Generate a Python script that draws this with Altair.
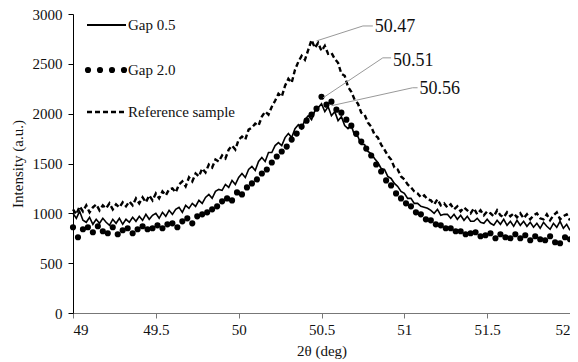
import altair as alt
import pandas as pd

FONT = "Liberation Serif"

# 2-theta grids
x_line = [round(49 + 0.02 * i, 2) for i in range(151)]
x_dot = [round(49 + 0.03 * i, 2) for i in range(101)]

ref_sample = [
    1040, 990, 1070, 1020, 1080, 1010, 1060, 1090, 1030, 1080, 1050, 1100, 1040, 1090, 1060,
    1110, 1070, 1120, 1080, 1150, 1100, 1160, 1110, 1180, 1130, 1200, 1150, 1220, 1180, 1240,
    1250, 1210, 1290, 1320, 1270, 1360, 1320, 1400, 1370, 1450, 1410, 1490, 1460, 1540, 1520,
    1580, 1550, 1640, 1680, 1640, 1740, 1770, 1740, 1840, 1860, 1900, 1880, 1970, 2020, 1990,
    2070, 2130, 2200, 2170, 2280, 2350, 2310, 2440, 2520, 2580, 2540, 2640, 2740, 2660, 2710,
    2630, 2680, 2600, 2610, 2550, 2510, 2400, 2380, 2270, 2220, 2140, 2100, 2010, 1990, 1910,
    1870, 1790, 1760, 1690, 1640, 1580, 1540, 1460, 1440, 1370, 1340, 1290, 1260, 1220, 1200,
    1160, 1180, 1140, 1130, 1090, 1140, 1080, 1100, 1060, 1090, 1040, 1070, 1020, 1060, 1030,
    1000, 1050, 990, 1030, 980, 1020, 1000, 970, 1030, 980, 960, 1010, 970, 1000, 960,
    1000, 950, 990, 940, 980, 1000, 950, 940, 990, 930, 980, 1010, 940, 970, 990,
    930,
]

gap05 = [
    1000, 950, 1020, 930, 910, 960, 890, 940, 900, 950, 910, 880, 940, 900, 950,
    890, 940, 910, 960, 920, 970, 930, 990, 940, 980, 1000, 950, 1010, 970, 1030,
    990, 1040, 1060, 1010, 1080, 1050, 1100, 1070, 1130, 1100, 1160, 1190, 1150, 1220, 1240,
    1230, 1290, 1260, 1330, 1290, 1360, 1400, 1360, 1440, 1470, 1430, 1520, 1560, 1520, 1610,
    1610, 1680, 1710, 1680, 1760, 1800, 1760, 1850, 1890, 1850, 1940, 1980, 1940, 2030, 2060,
    2100, 2020, 2070, 1980, 2020, 1930, 1970, 1880, 1850, 1880, 1780, 1770, 1690, 1690, 1620,
    1600, 1550, 1510, 1450, 1440, 1370, 1350, 1300, 1270, 1220, 1200, 1150, 1150, 1100, 1100,
    1070, 1060, 1050, 1030, 1000, 1040, 980, 990, 990, 950, 990, 940, 980, 930, 970,
    920, 920, 950, 910, 900, 940, 900, 880, 930, 890, 940, 880, 920, 870, 930,
    880, 920, 870, 910, 860, 900, 850, 910, 870, 840, 900, 860, 920, 850, 890,
    830,
]

gap20 = [
    860, 760, 840, 860, 810, 870, 820, 800, 860, 790,
    830, 850, 800, 840, 870, 840, 850, 880, 850, 890,
    900, 860, 920, 950, 900, 970, 990, 1010, 1040, 1070,
    1120, 1150, 1130, 1210, 1190, 1260, 1300, 1340, 1400, 1440,
    1510, 1570, 1620, 1670, 1740, 1800, 1870, 1930, 1990, 2050,
    2170, 2090, 2120, 2040, 2010, 1940, 1880, 1800, 1720, 1650,
    1580, 1490, 1420, 1330, 1280, 1200, 1150, 1100, 1070, 1010,
    990, 940, 930, 890, 880, 850, 850, 820, 820, 790,
    800, 810, 770, 780, 800, 750, 790, 760, 750, 790,
    750, 780, 730, 770, 740, 730, 770, 710, 700, 760,
    740,
]

# peak annotations
peak_labels = ["50.47", "50.51", "50.56"]
peak_x = [50.47, 50.51, 50.56]
peak_y = [2730, 2160, 2080]
elbow_x = [50.75, 50.87, 51.05]
elbow_y = [2880, 2560, 2260]
text_x = [50.81, 50.92, 51.08]
text_y = [2870, 2530, 2250]

x_ticks = [49, 49.5, 50, 50.5, 51, 51.5, 52]
y_ticks = [0, 500, 1000, 1500, 2000, 2500, 3000]

df_ref = pd.DataFrame({"x": x_line, "y": ref_sample})
df_g05 = pd.DataFrame({"x": x_line, "y": gap05})
df_g20 = pd.DataFrame({"x": x_dot, "y": gap20})
df_ann = pd.DataFrame({
    "label": peak_labels, "px": peak_x, "py": peak_y,
    "ex": elbow_x, "ey": elbow_y, "tx": text_x, "ty": text_y,
})

xs = alt.Scale(domain=[49, 52], nice=False, zero=False)
ys = alt.Scale(domain=[0, 3000], nice=False)

x_axis = alt.Axis(values=x_ticks, format="~g", title="2θ (deg)", grid=False,
                  tickSize=5, labelPadding=4, titlePadding=6,
                  labelFont=FONT, titleFont=FONT,
                  domainColor="#777", tickColor="#777")
y_axis = alt.Axis(values=y_ticks, format="d", title="Intensity (a.u.)", grid=False,
                  tickSize=5, labelPadding=6, titlePadding=7,
                  labelFont=FONT, titleFont=FONT,
                  domainColor="#000", tickColor="#000")

base_x = alt.X("x:Q", scale=xs, axis=x_axis)
base_y = alt.Y("y:Q", scale=ys, axis=y_axis)

ref_line = alt.Chart(df_ref).mark_line(
    color="black", strokeWidth=2.4, strokeDash=[5, 3]
).encode(x=base_x, y=base_y)

g05_line = alt.Chart(df_g05).mark_line(
    color="black", strokeWidth=1.6
).encode(x="x:Q", y="y:Q")

g20_pts = alt.Chart(df_g20).mark_circle(
    color="black", size=38, opacity=1
).encode(x="x:Q", y="y:Q")

leader1 = alt.Chart(df_ann).mark_rule(color="#999", strokeWidth=1).encode(
    x="px:Q", y="py:Q", x2="ex:Q", y2="ey:Q")
leader2 = alt.Chart(df_ann).mark_rule(color="#999", strokeWidth=1).encode(
    x="ex:Q", y="ey:Q", x2="tx:Q", y2="ey:Q")
ann_text = alt.Chart(df_ann).mark_text(
    align="left", baseline="middle", font=FONT, fontSize=18, color="#111", dx=2
).encode(x="tx:Q", y="ty:Q", text="label:N")

# manual legend (pixel positions inside plot area)
leg_solid = alt.Chart(pd.DataFrame({"a": [0]})).mark_rule(
    color="black", strokeWidth=1.8).encode(
    x=alt.value(14), x2=alt.value(53), y=alt.value(11))
leg_dash = alt.Chart(pd.DataFrame({"a": [0]})).mark_rule(
    color="black", strokeWidth=2.4, strokeDash=[5, 3]).encode(
    x=alt.value(14), x2=alt.value(53), y=alt.value(98))
leg_dots = alt.layer(*[
    alt.Chart(pd.DataFrame({"a": [0]})).mark_circle(
        color="black", size=38, opacity=1).encode(x=alt.value(px), y=alt.value(56))
    for px in [15, 27, 39, 51]
])
leg_names = ["Gap 0.5", "Gap 2.0", "Reference sample"]
leg_text = alt.layer(*[
    alt.Chart(pd.DataFrame({"a": [0]})).mark_text(
        align="left", baseline="middle", font=FONT, fontSize=15, color="#111",
        text=name).encode(x=alt.value(55), y=alt.value(py))
    for name, py in zip(leg_names, [11, 56, 98])
])

chart = alt.layer(
    ref_line, g05_line, g20_pts, leader1, leader2, ann_text,
    leg_solid, leg_dash, leg_dots, leg_text,
).properties(
    width=497, height=299,
    autosize="none",
    padding={"left": 65, "top": 6, "right": 0, "bottom": 48},
).configure_view(stroke=None).configure_axis(
    labelFont=FONT, titleFont=FONT, labelFontSize=15, titleFontSize=15,
    titleFontWeight="normal", labelColor="#111", titleColor="#111",
)

chart.save("out.html", embed_options={"renderer": "svg", "actions": False})
